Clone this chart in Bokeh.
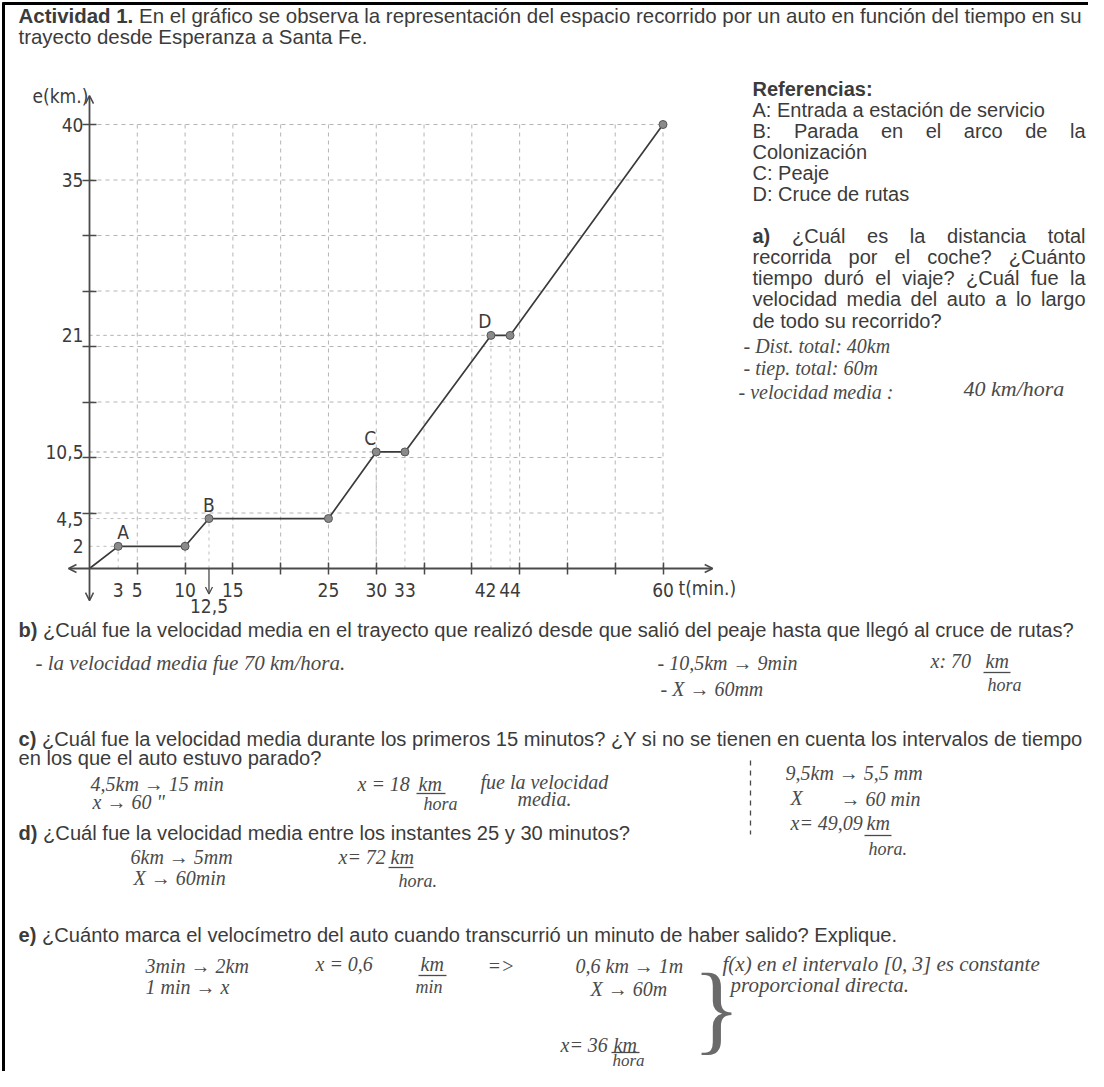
from bokeh.plotting import figure
from bokeh.models import Range1d, LinearAxis, FixedTicker, Arrow, OpenHead, ColumnDataSource
from bokeh.core.properties import value
from bokeh.embed import file_html
from bokeh.resources import INLINE

# ---------------- data ----------------
t_min = [0, 3, 10, 12.5, 25, 30, 33, 42, 44, 60]
e_km = [0, 2, 2, 4.5, 4.5, 10.5, 10.5, 21, 21, 40]
stop_letters = ["A", "B", "C", "D"]
stop_index = [1, 3, 5, 7]
guide_index = [1, 3, 5, 6, 7, 8]
x_grid = [5, 10, 15, 20, 25, 30, 35, 40, 45, 50, 55, 60]
y_grid = [5, 10, 15, 20, 25, 30, 35, 40]
x_label_vals = [3, 5, 10, 15, 25, 30, 33, 42, 44, 60]
x_label_text = ["3", "5", "10", "15", "25", "30", "33", "42\u00a0\u00a0", "44", "60"]
y_label_vals = [2, 4.5, 10.5, 21, 35, 40]
y_label_text = ["2", "4,5", "10,5", "21", "35", "40"]
arrow_label = "12,5"

# ---------------- canvas geometry ----------------
W, H = 1088, 1071
X0_PX, X60_PX = 89.0, 662.5
Y0_PX, Y40_PX = 568.0, 124.0
sx = (X60_PX - X0_PX) / 60.0
sy = (Y0_PX - Y40_PX) / 40.0


def t_of(px):
    return (px - X0_PX) / sx


def e_of(py):
    return (Y0_PX - py) / sy


PRINT = "Liberation Sans"
CHART = "DejaVu Sans Condensed"
HAND = "Liberation Serif"
INK = "#3b3b3b"
HAND_INK = "#4a4a4a"

# Arial / Liberation Sans advance widths (1/1000 em)
W_REG = {' ': 278, '!': 278, '"': 355, '(': 333, ')': 333, ',': 278, '-': 333, '.': 278,
         '/': 278, ':': 278, ';': 278, '=': 584, '>': 584, '?': 556, '[': 278, ']': 278,
         '¿': 611, '→': 1000,
         'A': 667, 'B': 667, 'C': 722, 'D': 722, 'E': 667, 'F': 611, 'G': 778, 'H': 722,
         'I': 278, 'J': 500, 'K': 667, 'L': 556, 'M': 833, 'N': 722, 'O': 778, 'P': 667,
         'Q': 778, 'R': 722, 'S': 667, 'T': 611, 'U': 722, 'V': 667, 'W': 944, 'X': 667,
         'Y': 667, 'Z': 611,
         'a': 556, 'b': 556, 'c': 500, 'd': 556, 'e': 556, 'f': 278, 'g': 556, 'h': 556,
         'i': 222, 'j': 222, 'k': 500, 'l': 222, 'm': 833, 'n': 556, 'o': 556, 'p': 556,
         'q': 556, 'r': 333, 's': 500, 't': 278, 'u': 556, 'v': 500, 'w': 722, 'x': 500,
         'y': 500, 'z': 500, 'á': 556, 'é': 556, 'í': 278, 'ó': 556, 'ú': 556, 'ñ': 556}
for d in "0123456789":
    W_REG[d] = 556
W_BOLD = {' ': 278, ')': 333, '.': 278, ':': 333, '1': 556, 'A': 722, 'R': 722, 'a': 556,
          'b': 611, 'c': 556, 'd': 611, 'e': 556, 'f': 333, 'i': 278, 'n': 611, 'r': 389,
          's': 556, 't': 333, 'v': 556}


def em(s, bold=False):
    tab = W_BOLD if bold else W_REG
    return sum(tab.get(c, 556) for c in s) / 1000.0


# ---------------- printed text ----------------
runs = []  # text, x, y, bold, fs


def line(parts, x, y, fs):
    for txt, bold in parts:
        if txt:
            runs.append((txt, x, y, bold, fs))
        x += (em(txt, bold) + em(" ")) * fs


def justify(words, x0, x1, y, fs):
    widths = [em(w, b) * fs for w, b in words]
    gap = (x1 - x0 - sum(widths)) / (len(words) - 1)
    x = x0
    for (w, b), wd in zip(words, widths):
        runs.append((w, x, y, b, fs))
        x += wd + gap


title_b = "Actividad 1."
title_r = "En el gráfico se observa la representación del espacio recorrido por un auto en función del tiempo en su"
title_2 = "trayecto desde Esperanza a Santa Fe."
fs_title = (1082 - 18) / (em(title_b, True) + em(" ") + em(title_r))
line([(title_b, True), (title_r, False)], 18, 15, fs_title)
line([(title_2, False)], 18, 36, fs_title)

questions = [
    ("b)", "¿Cuál fue la velocidad media en el trayecto que realizó desde que salió del peaje hasta que llegó al cruce de rutas?", 629),
    ("c)", "¿Cuál fue la velocidad media durante los primeros 15 minutos? ¿Y si no se tienen en cuenta los intervalos de tiempo", 738),
    ("", "en los que el auto estuvo parado?", 757),
    ("d)", "¿Cuál fue la velocidad media entre los instantes 25 y 30 minutos?", 832),
    ("e)", "¿Cuánto marca el velocímetro del auto cuando transcurrió un minuto de haber salido? Explique.", 934),
]
fs_q = (1082 - 18) / (em("c)", True) + em(" ") + em(questions[1][1]))
for b, r, y in questions:
    if b:
        line([(b, True), (r, False)], 18, y, fs_q)
    else:
        line([(r, False)], 18, y, fs_q)

RX0, RX1, fs_r = 752, 1085, 20
right_lines = [
    ([("Referencias:", True)], False, 88),
    ([("A: Entrada a estación de servicio", False)], False, 109),
    ([(w, False) for w in "B: Parada en el arco de la".split()], True, 130),
    ([("Colonización", False)], False, 151),
    ([("C: Peaje", False)], False, 172),
    ([("D: Cruce de rutas", False)], False, 193),
    ([("a)", True)] + [(w, False) for w in "¿Cuál es la distancia total".split()], True, 235),
    ([(w, False) for w in "recorrida por el coche? ¿Cuánto".split()], True, 256),
    ([(w, False) for w in "tiempo duró el viaje? ¿Cuál fue la".split()], True, 277),
    ([(w, False) for w in "velocidad media del auto a lo largo".split()], True, 298),
    ([("de todo su recorrido?", False)], False, 320),
]
for parts, just, y in right_lines:
    if just:
        justify(parts, RX0, RX1, y, fs_r)
    else:
        line(parts, RX0, y, fs_r)

# ---------------- handwritten answers (text, x, y, size px) ----------------
hand = [
    ("- Dist. total: 40km", 743, 345, 20),
    ("- tiep. total: 60m", 743, 367, 20),
    ("- velocidad media :", 738, 391, 20),
    ("40 km/hora", 963, 388, 22),
    ("- la velocidad media fue 70 km/hora.", 35, 662, 21),
    ("- 10,5km → 9min", 657, 662, 20),
    ("x: 70", 930, 660, 20),
    ("km", 985, 660, 20),
    ("hora", 987, 684, 18),
    ("- X → 60mm", 660, 688, 20),
    ("4,5km → 15 min", 90, 783, 20),
    ("x → 60 \"", 92, 801, 20),
    ("x = 18", 357, 783, 20),
    ("km", 418, 783, 20),
    ("hora", 423, 803, 18),
    ("fue la velocidad", 480, 781, 20),
    ("media.", 517, 798, 20),
    ("9,5km → 5,5 mm", 785, 772, 20),
    ("X", 790, 797, 20),
    ("→ 60 min", 840, 798, 20),
    ("x= 49,09", 790, 822, 20),
    ("km", 866, 822, 20),
    ("hora.", 868, 848, 18),
    ("6km → 5mm", 130, 856, 20),
    ("x= 72", 338, 856, 20),
    ("km", 390, 856, 20),
    ("X → 60min", 133, 877, 20),
    ("hora.", 398, 880, 18),
    ("3min → 2km", 145, 965, 20),
    ("1 min → x", 145, 986, 20),
    ("x = 0,6", 315, 963, 20),
    ("km", 420, 963, 20),
    ("min", 415, 986, 18),
    ("=>", 487, 965, 20),
    ("0,6 km → 1m", 575, 965, 20),
    ("X → 60m", 590, 988, 20),
    ("x= 36", 560, 1044, 20),
    ("km", 613, 1044, 20),
    ("hora", 612, 1060, 17),
    ("f(x) en el intervalo [0, 3] es constante", 722, 963, 21),
    ("proporcional directa.", 730, 984, 21),
]
hand_bars = [(983, 1010, 672), (416, 445, 793), (864, 891, 835), (388, 413, 867),
             (418, 446, 975), (611, 639, 1052)]

# ---------------- figure ----------------
p = figure(width=W, height=H, output_backend="svg", toolbar_location=None,
           x_range=Range1d(t_of(0), t_of(W)), y_range=Range1d(e_of(H), e_of(0)),
           x_axis_type=None, y_axis_type=None, min_border=0, outline_line_color=None,
           background_fill_color="white", border_fill_color="white")
p.extra_x_ranges = {"px": Range1d(0, W)}
p.extra_y_ranges = {"py": Range1d(H, 0)}

# sheet frame (left and top rules)
p.segment(x0=[3, 2], y0=[2, 3], x1=[3, W], y1=[H, 3],
          line_color="black", line_width=3, x_range_name="px", y_range_name="py")

# dashed grid
gmax_t, gmax_e = max(x_grid), max(y_grid)
p.segment(x0=x_grid, y0=[0] * len(x_grid), x1=x_grid, y1=[gmax_e] * len(x_grid),
          line_color="#b4b4b4", line_width=1, line_dash="4 4")
p.segment(x0=[0] * len(y_grid), y0=y_grid, x1=[gmax_t] * len(y_grid), y1=y_grid,
          line_color="#b4b4b4", line_width=1, line_dash="4 4")
# guides to the stop points
gt = [t_min[i] for i in guide_index]
ge = [e_km[i] for i in guide_index]
p.segment(x0=[0] * len(gt), y0=ge, x1=gt, y1=ge, line_color="#bdbdbd", line_width=1, line_dash="3 4")
p.segment(x0=gt, y0=[0] * len(gt), x1=gt, y1=ge, line_color="#bdbdbd", line_width=1, line_dash="3 4")

# axes lines with arrows
AX = "#4a4a4a"
for xe, ye in [(0, 42.6), (0, -2.9), (-2.2, 0), (65.2, 0)]:
    p.add_layout(Arrow(end=OpenHead(size=8, line_color=AX, line_width=1.5),
                       x_start=0, y_start=0, x_end=xe, y_end=ye, line_color=AX, line_width=1.8))
p.add_layout(Arrow(end=OpenHead(size=7, line_color=AX, line_width=1.3),
                   x_start=t_min[3], y_start=0, x_end=t_min[3], y_end=-2.3,
                   line_color=AX, line_width=1.3))

# tick-mark axes
yt = LinearAxis(fixed_location=0, ticker=FixedTicker(ticks=y_grid), axis_line_color=None,
                major_tick_in=7, major_tick_out=7, major_tick_line_color=AX, major_tick_line_width=1.5,
                minor_tick_line_color=None, major_label_text_color=None)
xt = LinearAxis(fixed_location=0, ticker=FixedTicker(ticks=x_grid), axis_line_color=None,
                major_tick_in=6, major_tick_out=6, major_tick_line_color=AX, major_tick_line_width=1.5,
                minor_tick_line_color=None, major_label_text_color=None)
# label axes
yl = LinearAxis(fixed_location=0, ticker=FixedTicker(ticks=y_label_vals), axis_line_color=None,
                major_tick_in=0, major_tick_out=0, minor_tick_line_color=None,
                major_label_overrides=dict(zip(y_label_vals, y_label_text)),
                major_label_standoff=6, major_label_text_font=CHART,
                major_label_text_font_size="19px", major_label_text_color=INK)
xl = LinearAxis(fixed_location=0, ticker=FixedTicker(ticks=x_label_vals), axis_line_color=None,
                major_tick_in=0, major_tick_out=0, minor_tick_line_color=None,
                major_label_overrides=dict(zip(x_label_vals, x_label_text)),
                major_label_standoff=10, major_label_text_font=CHART,
                major_label_text_font_size="19px", major_label_text_color=INK)
p.add_layout(yt, "left")
p.add_layout(yl, "left")
p.add_layout(xt, "below")
p.add_layout(xl, "below")

# trajectory
p.line(t_min, e_km, line_color="#3a3a3a", line_width=1.7)
p.scatter(t_min[1:], e_km[1:], size=8, fill_color="#8a8a8a", line_color="#555555", line_width=1)

# stop letters
p.text(x=[t_min[i] for i in stop_index], y=[e_km[i] for i in stop_index], text=stop_letters,
       x_offset=[5, 0, -6, -6], y_offset=-3, text_align="center", text_baseline="bottom",
       text_font=value(CHART), text_font_size="19px", text_color=INK)
# 12,5 label under its arrow
p.text(x=[t_min[3]], y=[e_of(605)], text=[arrow_label], text_align="center", text_baseline="middle",
       text_font=value(CHART), text_font_size="19px", text_color=INK)
# axis titles
p.text(x=[32, 678], y=[95, 587], text=["e(km.)", "t(min.)"], x_range_name="px", y_range_name="py",
       text_align="left", text_baseline="middle", text_font=value(CHART), text_font_size="19px",
       text_color=INK)

# printed text
for bold in (False, True):
    sel = [r for r in runs if r[3] == bold]
    src = ColumnDataSource(dict(x=[r[1] for r in sel], y=[r[2] for r in sel], text=[r[0] for r in sel],
                                fs=["%.2fpx" % r[4] for r in sel]))
    p.text(x="x", y="y", text="text", source=src, x_range_name="px", y_range_name="py",
           text_font=value(PRINT), text_font_size="fs", text_font_style="bold" if bold else "normal",
           text_align="left", text_baseline="middle", text_color=INK)

# handwriting
hsrc = ColumnDataSource(dict(x=[h[1] for h in hand], y=[h[2] for h in hand], text=[h[0] for h in hand],
                             fs=["%dpx" % h[3] for h in hand]))
p.text(x="x", y="y", text="text", source=hsrc,
       x_range_name="px", y_range_name="py", text_font=value(HAND), text_font_size="fs",
       text_font_style="italic", text_align="left", text_baseline="middle", text_color=HAND_INK)
p.segment(x0=[b[0] for b in hand_bars], y0=[b[2] for b in hand_bars], x1=[b[1] for b in hand_bars],
          y1=[b[2] for b in hand_bars], line_color=HAND_INK, line_width=1.3,
          x_range_name="px", y_range_name="py")
# brace and dashed separator
p.text(x=[692], y=[1008], text=["}"], x_range_name="px", y_range_name="py", text_font=value(HAND),
       text_font_size="100px", text_align="left", text_baseline="middle", text_color="#6a6a6a")
p.segment(x0=[750], y0=[760], x1=[750], y1=[834], line_color=HAND_INK, line_width=1.3, line_dash="5 5",
          x_range_name="px", y_range_name="py")

open("out.html", "w").write(file_html(p, INLINE))
